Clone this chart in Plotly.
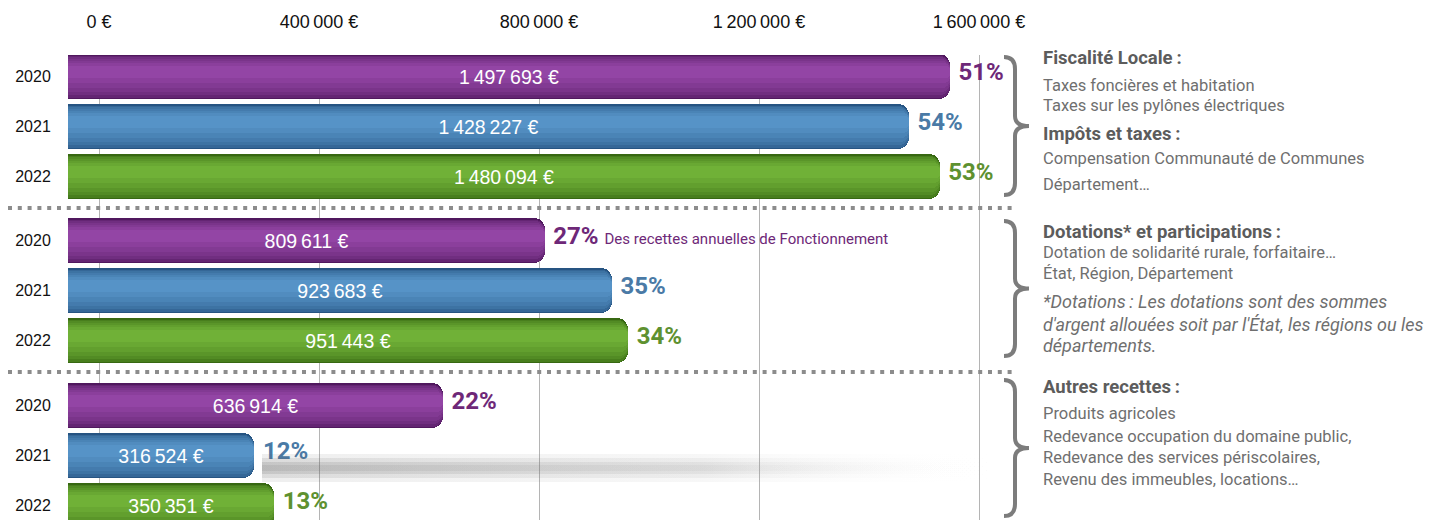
import plotly.graph_objects as go

# ---------------- data ----------------
YEARS = ["2020", "2021", "2022", "2020", "2021", "2022", "2020", "2021", "2022"]
VALUES = [1497693, 1428227, 1480094, 809611, 923683, 951443, 636914, 316524, 350351]
NNBSP = "\u202f"
VALUE_LABELS = [f"{v:,}".replace(",", NNBSP) + " €" for v in VALUES]
PCT_LABELS = ["51%", "54%", "53%", "27%", "35%", "34%", "22%", "12%", "13%"]
NOTE_ROW = 3
NOTE = "Des recettes annuelles de Fonctionnement"
TICK_VALS = [0, 400000, 800000, 1200000, 1600000]
TICK_LABELS = [f"{v:,}".replace(",", NNBSP) + " €" for v in TICK_VALS]

GROUP_TEXT = [
    [("b", "Fiscalité Locale\u2009:", 58), ("n", "Taxes foncières et habitation", 85),
     ("n", "Taxes sur les pylônes électriques", 106), ("b", "Impôts et taxes\u2009:", 134),
     ("n", "Compensation Communauté de Communes", 158), ("n", "Département…", 184)],
    [("b", "Dotations* et participations\u2009:", 232), ("n", "Dotation de solidarité rurale, forfaitaire…", 252),
     ("n", "État, Région, Département", 273), ("i", "*Dotations\u2009: Les dotations sont des sommes", 301),
     ("i", "d'argent allouées soit par l'État, les régions ou les", 324), ("i", "départements.", 346)],
    [("b", "Autres recettes\u2009:", 387), ("n", "Produits agricoles", 414),
     ("n", "Redevance occupation du domaine public,", 436), ("n", "Redevance des services périscolaires,", 457),
     ("n", "Revenu des immeubles, locations…", 479)],
]

# ---------------- layout constants (page pixels) ----------------
PAGE_W, PAGE_H = 1446, 520
OFF = 8                              # default page body margin
W, H = PAGE_W - OFF, PAGE_H - OFF
PL, PT = 60, 55                      # plot area left / top in page pixels
ROW_Y = [76, 126, 176, 240, 290, 340, 405, 455, 505]   # row centres (y axis = page pixels)
BAR_H = 45
BAR_ORIGIN_PX = 68
BAR_SCALE = 882 / 1497693            # px per euro for bars
TICK_ORIGIN_PX = 99
TICK_SCALE = 220 / 400000            # px per euro for the top scale

EDGE = {"2020": (80, 24, 94), "2021": (38, 84, 130), "2022": (55, 104, 18)}
GLOW = {"2020": (152, 72, 170), "2021": (90, 152, 204), "2022": (116, 182, 58)}
# shading layers: (width, y offset, blend 0..1, corner radius)
LAYERS = [(45, 0, 0.0, 11), (42, 0.5, 0.28, 10), (38, 0, 0.45, 10), (33, -1, 0.58, 9),
          (27, -2, 0.7, 8), (20, -3, 0.82, 6), (12, -4, 0.93, 4)]
PCT_COL = {"2020": "#6e2878", "2021": "#4a7aa6", "2022": "#5e9130"}
TEXT_GREY = "#6f6f6f"
HEAD_GREY = "#5c5c5c"


def blend(a, b, t):
    return "rgb({},{},{})".format(*[round(a[i] + (b[i] - a[i]) * t) for i in range(3)])


def PX(px):
    return (px - PL) / (PAGE_W - PL)


def PY(py):
    return (PAGE_H - py) / (PAGE_H - PT)


def X2(px):
    return (px - TICK_ORIGIN_PX) / TICK_SCALE


fig = go.Figure()

# soft shadow under the last group (decorative)
for h, a in [(14, 0.10), (10, 0.13), (6, 0.16), (3, 0.12)]:
    xs = [X2(262), X2(1000), X2(1000), X2(262), X2(262)]
    ys = [468 - h, 468 - h, 468 + h, 468 + h, 468 - h]
    fig.add_trace(go.Scatter(
        x=xs, y=ys, xaxis="x2", yaxis="y", mode="lines", line=dict(width=0),
        fill="toself",
        fillgradient=dict(type="horizontal",
                          colorscale=[[0, f"rgba(90,90,90,{a})"], [0.6, f"rgba(120,120,120,{a*0.6})"],
                                      [1, "rgba(255,255,255,0)"]]),
        hoverinfo="skip", showlegend=False))

# bar layers (pseudo 3D shading)
for w, dy, t, cr in LAYERS:
    cols = [blend(EDGE[y], GLOW[y], t) for y in YEARS]
    fig.add_trace(go.Bar(y=[r + dy for r in ROW_Y], x=VALUES, orientation="h", width=w,
                         marker=dict(color=cols, cornerradius=cr, line=dict(width=0)),
                         hoverinfo="skip"))
fig.add_trace(go.Bar(y=ROW_Y, x=VALUES, orientation="h", width=BAR_H,
                     marker=dict(color="rgba(0,0,0,0)", line=dict(width=0)),
                     text=VALUE_LABELS, textposition="inside", insidetextanchor="middle",
                     textangle=0,
                     textfont=dict(family="Liberation Sans", size=19.5, color="white"),
                     hoverinfo="skip"))

# percentage labels
pct_text = []
for i, p in enumerate(PCT_LABELS):
    t = f"<b>{p}</b>"
    if i == NOTE_ROW:
        t += f" <span style='font-size:15px'>{NOTE}</span>"
    pct_text.append(t)
fig.add_trace(go.Scatter(
    x=VALUES, y=[r - 2 for r in ROW_Y], mode="markers+text", text=pct_text, textposition="middle right",
    marker=dict(size=12, opacity=0),
    textfont=dict(family="Roboto", size=24, color=[PCT_COL[y] for y in YEARS]),
    hoverinfo="skip", showlegend=False))

shapes = []
# dotted separators
for yy in (208, 372):
    shapes.append(dict(type="line", xref="paper", yref="paper", x0=PX(OFF), x1=PX(1012),
                       y0=PY(yy), y1=PY(yy),
                       line=dict(color="#8c8c8c", width=4, dash="4px,5.8px")))


def brace(yt, yb):
    xa, xb, xc = 1004, 1015, 1029
    ym = (yt + yb) / 2
    pts = [
        f"M {PX(xa)},{PY(yt)}",
        f"Q {PX(xb)},{PY(yt)} {PX(xb)},{PY(yt + 12)}",
        f"L {PX(xb)},{PY(ym - 10)}",
        f"Q {PX(xb)},{PY(ym)} {PX(xc)},{PY(ym)}",
        f"Q {PX(xb)},{PY(ym)} {PX(xb)},{PY(ym + 10)}",
        f"L {PX(xb)},{PY(yb - 12)}",
        f"Q {PX(xb)},{PY(yb)} {PX(xa)},{PY(yb)}",
    ]
    return dict(type="path", xref="paper", yref="paper", path=" ".join(pts),
                line=dict(color="#7c7c7c", width=4))


for yt, yb in [(57, 195), (221, 356), (380, 516)]:
    shapes.append(brace(yt, yb))

annotations = []
for grp in GROUP_TEXT:
    for style, txt, yc in grp:
        if style == "b":
            t, col, sz = f"<b>{txt}</b>", HEAD_GREY, 18.5
        elif style == "i":
            t, col, sz = f"<i>{txt}</i>", TEXT_GREY, 18
        else:
            t, col, sz = txt, TEXT_GREY, 16.5
        annotations.append(dict(xref="paper", yref="paper", x=PX(1041), y=PY(yc),
                                xanchor="left", yanchor="middle", text=t, showarrow=False,
                                font=dict(family="Roboto", size=sz, color=col)))

fig.update_layout(
    width=W, height=H, margin=dict(l=PL - OFF, r=0, t=PT - OFF, b=0, pad=0),
    paper_bgcolor="white", plot_bgcolor="white",
    barmode="overlay", bargap=0, showlegend=False, hovermode=False,
    xaxis=dict(range=[(PL - BAR_ORIGIN_PX) / BAR_SCALE, (PAGE_W - BAR_ORIGIN_PX) / BAR_SCALE],
               visible=False, fixedrange=True),
    xaxis2=dict(overlaying="x", side="top", anchor="y",
                range=[X2(PL), X2(PAGE_W)],
                tickmode="array", tickvals=TICK_VALS, ticktext=TICK_LABELS,
                tickfont=dict(family="Liberation Sans", size=18, color="#111111"),
                ticks="outside", ticklen=19, tickcolor="rgba(0,0,0,0)",
                showgrid=True, gridcolor="#b4b4b4", gridwidth=1,
                zeroline=False, showline=False, fixedrange=True),
    yaxis=dict(range=[PAGE_H, PT], tickmode="array", tickvals=ROW_Y, ticktext=YEARS,
               tickfont=dict(family="Liberation Sans", size=16, color="#111111"),
               ticks="outside", ticklen=5, tickcolor="rgba(0,0,0,0)",
               showgrid=False, zeroline=False, showline=False, fixedrange=True),
    shapes=shapes, annotations=annotations,
)

fig.write_html("out.html")
